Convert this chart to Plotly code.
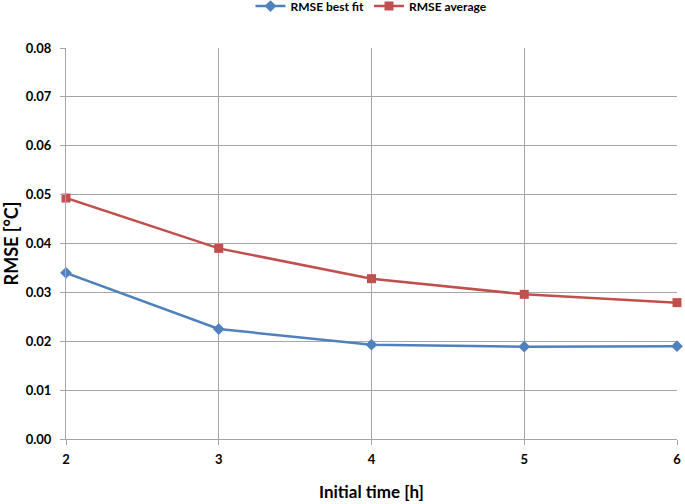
import plotly.graph_objects as go

x_vals = [2, 3, 4, 5, 6]
rmse_best_fit = [0.0340, 0.0225, 0.0193, 0.0189, 0.0190]
rmse_average = [0.0493, 0.0390, 0.0328, 0.0296, 0.0279]
y_ticks = [0.00, 0.01, 0.02, 0.03, 0.04, 0.05, 0.06, 0.07, 0.08]

FONT = "Lato"

fig = go.Figure()
fig.add_trace(go.Scatter(
    x=x_vals, y=rmse_best_fit, name="<b>RMSE best fit</b>", mode="lines+markers",
    line=dict(color="#4F81BD", width=2.5),
    marker=dict(symbol="diamond", size=9, color="#4F81BD"),
    cliponaxis=False,
))
fig.add_trace(go.Scatter(
    x=x_vals, y=rmse_average, name="<b>RMSE average</b>", mode="lines+markers",
    line=dict(color="#C0504D", width=2.5),
    marker=dict(symbol="square", size=9, color="#C0504D"),
    cliponaxis=False,
))

fig.update_layout(
    width=685, height=504,
    margin=dict(l=66, r=4, t=48, b=65),
    paper_bgcolor="white", plot_bgcolor="white",
    font=dict(family=FONT, size=13, color="#000000"),
    showlegend=True,
    legend=dict(orientation="h", x=0.5, xanchor="center", y=0.988, yanchor="middle",
                yref="container", font=dict(family=FONT, size=12, color="#000"),
                itemwidth=30, tracegroupgap=0),
    annotations=[dict(
        text="<b>Initial time [h]</b>", xref="paper", yref="paper",
        x=0.5, y=-52 / 391, xanchor="center", yanchor="middle", showarrow=False,
        font=dict(family=FONT, size=17, color="#000"),
    )],
)

fig.update_xaxes(
    range=[2, 6], tickvals=x_vals, ticktext=[f"<b>{v}</b>" for v in x_vals],
    showgrid=True, gridcolor="#A6A6A6", gridwidth=1,
    showline=True, linecolor="#A6A6A6", linewidth=1,
    ticks="outside", ticklen=5, tickcolor="#A6A6A6",
    ticklabelstandoff=3, ticklabeloverflow="allow",
    tickfont=dict(family=FONT, size=13, color="#000"),
    zeroline=False,
)
fig.update_yaxes(
    range=[0, 0.08], tickvals=y_ticks, ticktext=[f"<b>{v:.2f}</b>" for v in y_ticks],
    showgrid=True, gridcolor="#A6A6A6", gridwidth=1,
    showline=True, linecolor="#A6A6A6", linewidth=1,
    ticks="outside", ticklen=5, tickcolor="#A6A6A6",
    ticklabelstandoff=6,
    tickfont=dict(family=FONT, size=13, color="#000"),
    title=dict(text="<b>RMSE [°C]</b>", font=dict(family=FONT, size=18, color="#000"), standoff=6),
    zeroline=False,
)

fig.write_html("out.html", config={"displayModeBar": False},
               post_script="document.body.style.margin='0px';")
